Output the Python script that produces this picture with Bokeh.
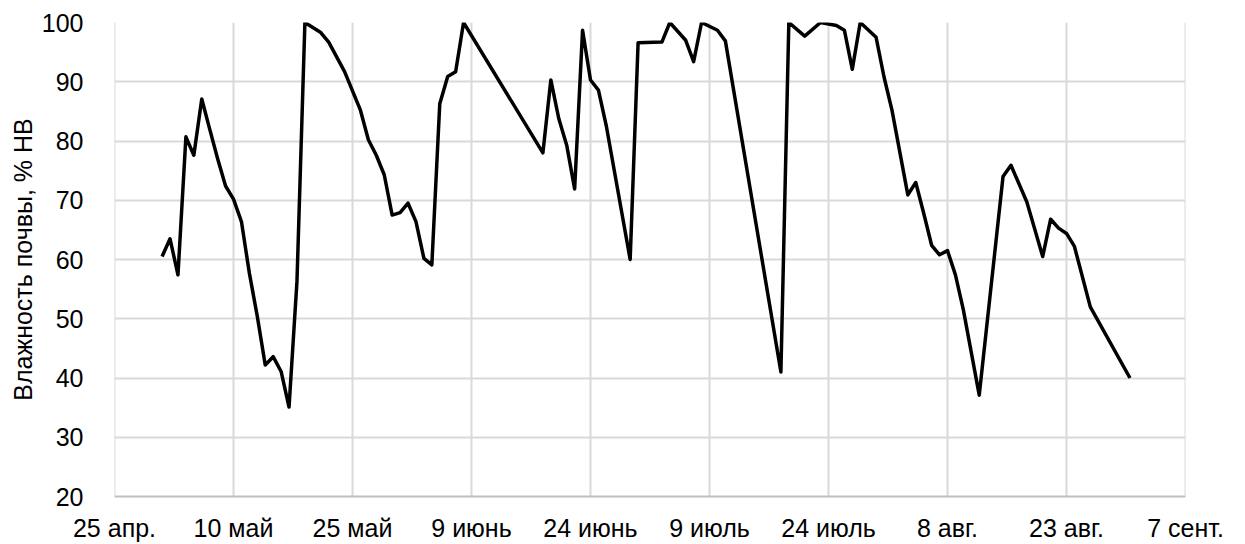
import pandas as pd
from bokeh.plotting import figure
from bokeh.models import FixedTicker, Range1d, Span
from bokeh.embed import file_html
from bokeh.resources import INLINE

# --- data -------------------------------------------------------------
dates = [
    "2021-05-01", "2021-05-02", "2021-05-03", "2021-05-04", "2021-05-05", "2021-05-06",
    "2021-05-07", "2021-05-08", "2021-05-09", "2021-05-10", "2021-05-11", "2021-05-12",
    "2021-05-13", "2021-05-14", "2021-05-15", "2021-05-16", "2021-05-17", "2021-05-18",
    "2021-05-19", "2021-05-21", "2021-05-22", "2021-05-24", "2021-05-26", "2021-05-27",
    "2021-05-28", "2021-05-29", "2021-05-30", "2021-05-31", "2021-06-01", "2021-06-02",
    "2021-06-03", "2021-06-04", "2021-06-05", "2021-06-06", "2021-06-07", "2021-06-08",
    "2021-06-18", "2021-06-19", "2021-06-20", "2021-06-21", "2021-06-22", "2021-06-23",
    "2021-06-24", "2021-06-25", "2021-06-26", "2021-06-29", "2021-06-30", "2021-07-03",
    "2021-07-04", "2021-07-06", "2021-07-07", "2021-07-08", "2021-07-10", "2021-07-11",
    "2021-07-18", "2021-07-19", "2021-07-21", "2021-07-23", "2021-07-25", "2021-07-26",
    "2021-07-27", "2021-07-28", "2021-07-30", "2021-07-31", "2021-08-01", "2021-08-03",
    "2021-08-04", "2021-08-05", "2021-08-06", "2021-08-07", "2021-08-08", "2021-08-09",
    "2021-08-10", "2021-08-12", "2021-08-15", "2021-08-16", "2021-08-18", "2021-08-20",
    "2021-08-21", "2021-08-22", "2021-08-23", "2021-08-24", "2021-08-26", "2021-08-31",
]
moisture = [
    60.5, 63.5, 57.4, 80.7, 77.6, 87.1,
    82.0, 77.0, 72.4, 70.2, 66.4, 57.7,
    50.4, 42.2, 43.6, 41.1, 35.1, 56.3,
    100.0, 98.3, 96.7, 91.7, 85.2, 80.2,
    77.6, 74.3, 67.5, 67.9, 69.5, 66.4,
    60.2, 59.1, 86.3, 90.9, 91.7, 100.0,
    78.0, 90.3, 83.8, 79.3, 71.9, 98.7,
    90.3, 88.6, 82.5, 60.0, 96.6, 96.7,
    100.0, 97.0, 93.4, 100.0, 98.7, 96.9,
    41.0, 100.0, 97.7, 100.0, 99.5, 98.7,
    92.1, 100.0, 97.5, 90.8, 85.2, 70.9,
    73.0, 67.8, 62.4, 60.8, 61.5, 57.4,
    51.5, 37.1, 74.0, 75.9, 69.7, 60.5,
    66.8, 65.3, 64.4, 62.2, 52.0, 40.0,
]
tick_dates = ["2021-04-25", "2021-05-10", "2021-05-25", "2021-06-09", "2021-06-24",
              "2021-07-09", "2021-07-24", "2021-08-08", "2021-08-23", "2021-09-07"]
tick_labels = ["25 апр.", "10 май", "25 май", "9 июнь", "24 июнь",
               "9 июль", "24 июль", "8 авг.", "23 авг.", "7 сент."]
y_ticks = [20, 30, 40, 50, 60, 70, 80, 90, 100]
y_title = "Влажность почвы, % НВ"

# --- chart ------------------------------------------------------------
x = pd.to_datetime(dates)
tick_ms = [float(pd.Timestamp(d).value // 10**6) for d in tick_dates]

FONT = "Liberation Sans"
FS = "25px"
GRID = "#d9d9d9"

p = figure(width=1245, height=544, x_axis_type="datetime",
           output_backend="svg", toolbar_location=None,
           min_border_left=114, min_border_right=60,
           min_border_top=22, min_border_bottom=48)
p.x_range = Range1d(tick_ms[0], tick_ms[-1])
p.y_range = Range1d(20, 100)
p.outline_line_color = None
p.background_fill_color = "white"
p.border_fill_color = "white"

p.line(x, moisture, line_color="black", line_width=3.5, line_join="round")

xa = p.xaxis[0]
xa.ticker = FixedTicker(ticks=tick_ms)
xa.major_label_overrides = {t: lab for t, lab in zip(tick_ms, tick_labels)}
xa.major_label_text_font = FONT
xa.major_label_text_font_size = FS
xa.major_label_text_color = "#000000"
xa.major_label_standoff = 11
xa.major_tick_line_color = None
xa.minor_tick_line_color = None
xa.axis_line_color = "#bfbfbf"
xa.axis_line_width = 2

ya = p.yaxis[0]
ya.ticker = FixedTicker(ticks=y_ticks)
ya.major_label_text_font = FONT
ya.major_label_text_font_size = FS
ya.major_label_text_color = "#000000"
ya.major_label_standoff = 25
ya.major_tick_line_color = None
ya.minor_tick_line_color = None
ya.axis_line_color = None
ya.axis_label = y_title
ya.axis_label_text_font = FONT
ya.axis_label_text_font_size = FS
ya.axis_label_text_font_style = "normal"
ya.axis_label_text_color = "#000000"
ya.axis_label_standoff = 2

p.xgrid[0].ticker = FixedTicker(ticks=tick_ms)
p.xgrid[0].grid_line_color = GRID
p.xgrid[0].grid_line_width = 2
p.ygrid[0].ticker = FixedTicker(ticks=y_ticks)
p.ygrid[0].grid_line_color = GRID
p.ygrid[0].grid_line_width = 2

p.add_layout(Span(location=tick_ms[0], dimension="height", line_color=GRID, line_width=2), "below")
p.add_layout(Span(location=tick_ms[-1], dimension="height", line_color=GRID, line_width=2), "below")

open("out.html", "w").write(file_html(p, INLINE))
